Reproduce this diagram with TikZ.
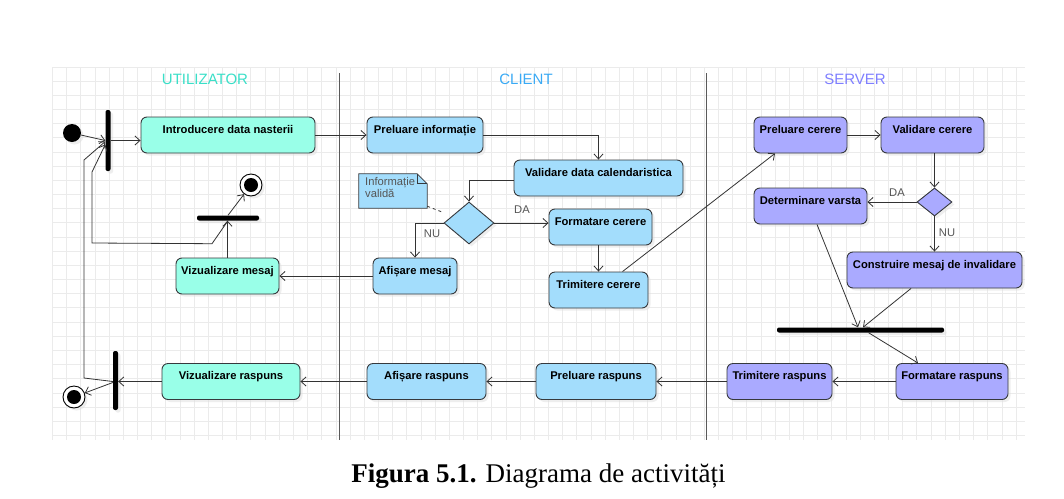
\documentclass[tikz,border=0pt]{standalone}
\usepackage{fontspec}
\setmainfont{Liberation Serif}
\newfontfamily\lsans{Liberation Sans}
\usetikzlibrary{shapes.geometric,arrows.meta,shadows,calc}
\definecolor{cU}{HTML}{99FFE8}
\definecolor{cC}{HTML}{A3DDFC}
\definecolor{cS}{HTML}{AAAAFF}
\definecolor{tU}{HTML}{3ADFC8}
\definecolor{tC}{HTML}{3AAAF5}
\definecolor{tS}{HTML}{7F7FFF}
\definecolor{edgec}{HTML}{333333}
\definecolor{bord}{HTML}{36393D}
\definecolor{gridc}{HTML}{EBEBEB}
\definecolor{labc}{HTML}{555555}
\definecolor{lanec}{HTML}{5A5A5A}
\begin{document}
\begin{tikzpicture}[x=1pt,y=-1pt,
  shad/.style={drop shadow={shadow xshift=2.5pt,shadow yshift=-2.5pt,fill=black!13,draw=none}},
  act/.style={draw=bord, line width=0.9pt, rounded corners=6pt, minimum height=36pt,
    inner xsep=1pt, inner ysep=0pt, text height=16pt, text depth=20pt,
    font=\lsans\bfseries\fontsize{11.2}{13}\selectfont, shad},
  ua/.style={act, fill=cU},
  ca/.style={act, fill=cC},
  sa/.style={act, fill=cS},
  vbar/.style={fill=black, rounded corners=2pt, inner sep=0pt, minimum width=5pt, shad},
  hbar/.style={fill=black, rounded corners=2pt, inner sep=0pt, minimum height=5pt, shad},
  decis/.style={diamond, draw=bord, line width=0.9pt, inner sep=0pt, shad},
  arr/.style={draw=edgec, line width=0.8pt, -{Straight Barb[length=5pt,width=9pt]}},
  lab/.style={font=\lsans\fontsize{11.2}{13}\selectfont, text=labc, inner sep=0pt},
  ttl/.style={font=\lsans\fontsize{15}{18}\selectfont, inner sep=0pt},
  startn/.style={circle, fill=black, inner sep=0pt, minimum size=18pt, shad},
  endn/.style={circle, draw=black, line width=0.9pt, fill=white, inner sep=0pt, minimum size=22pt, shad},
  endin/.style={circle, fill=black, inner sep=0pt, minimum size=14pt}
]
\useasboundingbox (0,0) rectangle (1064,498);
\fill[white] (0,0) rectangle (1064,498);
% grid
\foreach \i in {0,...,68} \draw[gridc, line width=0.8pt] ({52.5+\i*14.17},67) -- ({52.5+\i*14.17},440);
\foreach \j in {0,...,26} \draw[gridc, line width=0.8pt] (52.5,{67+\j*14.17}) -- (1025,{67+\j*14.17});
% lane separators
\draw[lanec, line width=0.9pt] (339,73) -- (339,440);
\draw[lanec, line width=0.9pt] (706,73) -- (706,440);
% titles
\node[ttl, text=tU] (tUt) at (205,79) {UTILIZATOR};
\node[ttl, text=tC] (tCt) at (526,79) {CLIENT};
\node[ttl, text=tS] (tSt) at (855,79) {SERVER};

% UTILIZATOR lane
\node[startn] (init) at (72,133) {};
\node[vbar, minimum height=61pt] (forkTop) at (108,140.5) {};
\node[ua, minimum width=174pt] (intro) at (228,135) {Introducere data nasterii};
\node[endn] (endTop) at (251,185) {};
\node[endin] (endTopIn) at (251,185) {};
\node[hbar, minimum width=62pt] (joinTop) at (228,218) {};
\node[ua, minimum width=103pt] (vizMesaj) at (227.5,276) {Vizualizare mesaj};
\node[vbar, minimum height=59pt] (forkBot) at (115.5,380.5) {};
\node[endn] (endBot) at (74,397) {};
\node[endin] (endBotIn) at (74,397) {};
\node[ua, minimum width=138pt] (vizRasp) at (231,381.5) {Vizualizare raspuns};

% CLIENT lane
\node[ca, minimum width=116pt] (prelInfo) at (425,135) {Preluare informație};
\node[ca, minimum width=169pt] (valData) at (598.5,178) {Validare data calendaristica};
\node[decis, fill=cC, minimum width=50pt, minimum height=42pt] (dec1) at (469,223) {};
\node[ca, minimum width=103pt] (formCerere) at (600.5,227) {Formatare cerere};
\node[ca, minimum width=84pt] (afisMesaj) at (415,276) {Afișare mesaj};
\node[ca, minimum width=99pt] (trimCerere) at (598.5,290) {Trimitere cerere};
\node[ca, minimum width=119pt] (afisRasp) at (426.5,381.5) {Afișare raspuns};
\node[ca, minimum width=120pt] (prelRasp) at (596,381.5) {Preluare raspuns};
% note
\node[minimum width=68pt, minimum height=34pt, inner sep=0pt] (note) at (393,191) {};
\filldraw[fill=cC, draw=bord, line width=0.8pt] (note.south west) -- (note.north west) -- ([xshift=-10pt]note.north east) -- ([yshift=-10pt]note.north east) -- (note.south east) -- cycle;
\draw[bord, line width=0.8pt] ([xshift=-10pt]note.north east) -- ([xshift=-10pt,yshift=-10pt]note.north east) -- ([yshift=-10pt]note.north east);
\node[lab, anchor=north west, align=left, font=\lsans\fontsize{11.2}{12}\selectfont] (noteTxt) at (365,177) {Informație\\validă};
\coordinate (noteEnd) at (442,212);

% SERVER lane
\node[sa, minimum width=93pt] (prelCerere) at (800.5,135) {Preluare cerere};
\node[sa, minimum width=103pt] (valCerere) at (932.5,135) {Validare cerere};
\node[decis, fill=cS, minimum width=35pt, minimum height=28pt] (dec2) at (934.5,202) {};
\node[sa, minimum width=113pt] (detVarsta) at (810.5,206) {Determinare varsta};
\node[sa, minimum width=175pt] (constr) at (934.5,270) {Construire mesaj de invalidare};
\node[hbar, minimum width=167pt] (joinSrv) at (860.5,330) {};
\node[sa, minimum width=112pt] (formRasp) at (952,381.5) {Formatare raspuns};
\node[sa, minimum width=105pt] (trimRasp) at (779.5,381.5) {Trimitere raspuns};

% edges - user lane
\draw[arr] (init) -- (forkTop.west);
\draw[arr] (forkTop.east) -- (forkTop.east -| intro.west);
\draw[arr] (vizMesaj.north) -- (vizMesaj.north |- joinTop.south);
\draw[arr] (joinTop.north) -- (endTop);
\draw[arr] (joinTop.south) -- ++(-16,23) -- (92,243) -- (92,172) -- ([yshift=-4pt]forkTop.west);
\draw[arr] ([yshift=-1pt]forkBot.west) -- (84,378) -- (84,160) -- ([yshift=-1pt]forkTop.west);
\draw[arr] ([yshift=-2pt]forkBot.west) -- (endBot);
\draw[arr] (vizRasp.west) -- (vizRasp.west -| forkBot.east);

% edges - client lane
\draw[arr] (intro.east) -- (prelInfo.west);
\draw[arr] (prelInfo.east) -| (valData.north);
\draw[arr] ([yshift=-2pt]valData.west) -| (dec1.north);
\draw[arr] (dec1.east) -- (dec1.east -| formCerere.west);
\node[lab] (da1) at (522,210) {DA};
\draw[arr] (dec1.west) -| (afisMesaj.north);
\node[lab] (nu1) at (432,234) {NU};
\draw[edgec, line width=0.8pt, dashed] ([yshift=2pt]note.south east) -- (noteEnd);
\draw[arr] (trimCerere.north |- formCerere.south) -- (trimCerere.north);
\draw[arr] ([xshift=24pt]trimCerere.north) -- ([xshift=-25.5pt]prelCerere.south);
\draw[arr] (afisMesaj.west) -- (afisMesaj.west -| vizMesaj.east);
\draw[arr] (afisRasp.west) -- (vizRasp.east);
\draw[arr] (prelRasp.west) -- (afisRasp.east);

% edges - server lane
\draw[arr] (prelCerere.east) -- (valCerere.west);
\draw[arr] (dec2.north |- valCerere.south) -- (dec2.north);
\draw[arr] (dec2.west) -- (dec2.west -| detVarsta.east);
\node[lab] (da2) at (897,193) {DA};
\draw[arr] (dec2.south) -- (constr.north);
\node[lab] (nu2) at (947,233) {NU};
\draw[arr] ([xshift=6.5pt]detVarsta.south) -- ([xshift=-2.5pt]joinSrv.north);
\draw[arr] ([xshift=-23.5pt]constr.south) -- ([xshift=2.5pt]joinSrv.north);
\draw[arr] ([xshift=8pt]joinSrv.south) -- ([xshift=-34pt]formRasp.north);
\draw[arr] (formRasp.west) -- (trimRasp.east);
\draw[arr] (trimRasp.west) -- (prelRasp.east);

% caption
\node[anchor=base, inner sep=0pt, font=\fontsize{27}{30}\selectfont] (cap) at (538.5,482.7) {\textbf{Figura 5.1.} Diagrama de activități};
\end{tikzpicture}
\end{document}
